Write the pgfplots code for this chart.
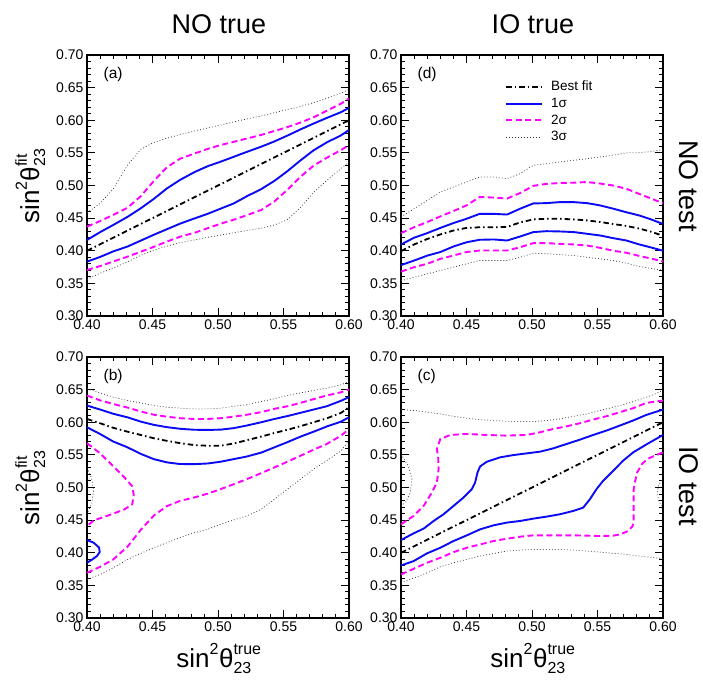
\documentclass[border=0pt]{standalone}
\usepackage{fontspec}
\setmainfont{Liberation Sans}
\usepackage{amsmath}
\usepackage{pgfplots}
\pgfplotsset{compat=1.18}
\DeclareMathSizes{26}{26}{16}{12}
\definecolor{sblue}{RGB}{10,10,245}
\definecolor{smag}{RGB}{255,0,255}

\pgfplotsset{
  panel/.style={
    scale only axis, width=262pt, height=261pt,
    xmin=0.4, xmax=0.6, ymin=0.3, ymax=0.7,
    xtick={0.40,0.45,0.50,0.55,0.60},
    ytick={0.30,0.35,0.40,0.45,0.50,0.55,0.60,0.65,0.70},
    minor x tick num=4, minor y tick num=4,
    major tick length=8pt, minor tick length=4pt,
    axis line style={line width=1.1pt},
    tick style={black, line width=1pt},
    tick label style={font=\fontsize{14}{16}\selectfont},
    /pgf/number format/assume math mode=true,
    xticklabel style={/pgf/number format/fixed, /pgf/number format/fixed zerofill, /pgf/number format/precision=2},
    yticklabel style={/pgf/number format/fixed, /pgf/number format/fixed zerofill, /pgf/number format/precision=2},
  },
  bf/.style={black, line width=1.8pt, dash pattern=on 5.5pt off 3pt on 1.5pt off 3pt},
  s1/.style={sblue, line width=1.9pt},
  s2/.style={smag, line width=1.9pt, dash pattern=on 6pt off 3.5pt},
  s3/.style={black!80, line width=0.75pt, dash pattern=on 0.8pt off 2.2pt},
}
\newcommand{\plab}[1]{\node[anchor=west, font=\fontsize{15.5}{17}\selectfont] at (axis cs:0.410,0.670) {#1};}

\begin{document}
\begin{tikzpicture}
\useasboundingbox (0pt,0pt) rectangle (703pt,681pt);

% (a) NO true, NO test
\begin{axis}[panel, at={(87pt,365pt)}, anchor=south west]
\addplot[s3] coordinates {(0.400,0.458)(0.410,0.4725)(0.420,0.4945)(0.431,0.5315)(0.441,0.5555)(0.451,0.566)(0.461,0.5725)(0.471,0.578)(0.482,0.5835)(0.492,0.588)(0.502,0.5925)(0.512,0.5975)(0.522,0.602)(0.533,0.6065)(0.543,0.6115)(0.553,0.6165)(0.563,0.621)(0.573,0.627)(0.583,0.6335)(0.594,0.6415)(0.600,0.6474)};
\addplot[s3] coordinates {(0.400,0.356)(0.410,0.3655)(0.420,0.3735)(0.431,0.383)(0.441,0.393)(0.451,0.401)(0.461,0.407)(0.471,0.4125)(0.482,0.4165)(0.492,0.4205)(0.502,0.424)(0.512,0.4275)(0.522,0.431)(0.533,0.4345)(0.543,0.4395)(0.553,0.4475)(0.563,0.4665)(0.573,0.4895)(0.583,0.5075)(0.594,0.526)(0.600,0.5365)};
\addplot[s2] coordinates {(0.400,0.437)(0.410,0.4455)(0.420,0.455)(0.431,0.466)(0.441,0.4835)(0.451,0.507)(0.461,0.528)(0.471,0.541)(0.482,0.549)(0.492,0.556)(0.502,0.562)(0.512,0.567)(0.522,0.572)(0.533,0.5775)(0.543,0.5835)(0.553,0.5895)(0.563,0.5965)(0.573,0.6045)(0.583,0.6145)(0.594,0.6255)(0.600,0.6335)};
\addplot[s2] coordinates {(0.400,0.3705)(0.410,0.3765)(0.420,0.3835)(0.431,0.391)(0.441,0.3985)(0.451,0.406)(0.461,0.414)(0.471,0.4215)(0.482,0.4275)(0.492,0.4345)(0.502,0.4415)(0.512,0.4475)(0.522,0.4545)(0.533,0.4625)(0.543,0.4755)(0.553,0.4935)(0.563,0.5135)(0.573,0.5305)(0.583,0.5425)(0.594,0.5545)(0.600,0.562)};
\addplot[s1] coordinates {(0.400,0.4165)(0.410,0.4285)(0.420,0.4395)(0.431,0.452)(0.441,0.465)(0.451,0.4795)(0.461,0.4955)(0.471,0.5085)(0.482,0.5205)(0.492,0.5295)(0.502,0.5365)(0.512,0.544)(0.522,0.5515)(0.533,0.5595)(0.543,0.5675)(0.553,0.5765)(0.563,0.586)(0.573,0.595)(0.583,0.6035)(0.594,0.6125)(0.600,0.619)};
\addplot[s1] coordinates {(0.400,0.3833)(0.410,0.3905)(0.420,0.399)(0.431,0.4065)(0.441,0.4155)(0.451,0.4245)(0.461,0.433)(0.471,0.4415)(0.482,0.4495)(0.492,0.4565)(0.502,0.4645)(0.512,0.4725)(0.522,0.4835)(0.533,0.4945)(0.543,0.507)(0.553,0.522)(0.563,0.5385)(0.573,0.554)(0.583,0.566)(0.594,0.577)(0.600,0.585)};
\addplot[bf] coordinates {(0.40,0.40)(0.50,0.50)(0.60,0.60)};
\plab{(a)}
\end{axis}

% (d) IO true, NO test
\begin{axis}[panel, at={(401pt,365pt)}, anchor=south west,
  legend style={at={(0.389,0.912)}, anchor=north west, draw=none, fill=none,
    inner sep=2pt, column sep=7pt, row sep=3.2pt,
    nodes={text height=9.5pt, text depth=2pt, inner sep=1pt},
    font=\fontsize{13.5}{15}\selectfont},
  legend cell align=left,
  legend image code/.code={\draw[#1] (0pt,0pt) -- (36pt,0pt);}]
\addplot[bf] coordinates {(0.400,0.3994)(0.410,0.4096)(0.420,0.418)(0.430,0.425)(0.440,0.431)(0.450,0.435)(0.460,0.436)(0.471,0.436)(0.481,0.4365)(0.491,0.4435)(0.501,0.448)(0.511,0.449)(0.521,0.449)(0.532,0.448)(0.542,0.4465)(0.552,0.444)(0.562,0.441)(0.572,0.438)(0.582,0.434)(0.591,0.429)(0.600,0.423)};
\addlegendentry{Best fit}
\addplot[s1] coordinates {(0.400,0.4096)(0.410,0.42)(0.420,0.427)(0.430,0.435)(0.440,0.4424)(0.450,0.449)(0.460,0.4565)(0.471,0.4565)(0.481,0.4555)(0.491,0.4645)(0.501,0.4725)(0.511,0.473)(0.521,0.4745)(0.532,0.4745)(0.542,0.473)(0.552,0.4695)(0.562,0.4645)(0.572,0.459)(0.582,0.454)(0.591,0.448)(0.600,0.441)};
\addlegendentry{1σ}
\addplot[s2] coordinates {(0.400,0.427)(0.410,0.436)(0.420,0.444)(0.430,0.4526)(0.440,0.4608)(0.450,0.4695)(0.460,0.4823)(0.471,0.4815)(0.481,0.480)(0.491,0.4885)(0.501,0.4995)(0.511,0.5025)(0.521,0.5038)(0.532,0.5043)(0.542,0.5053)(0.552,0.503)(0.562,0.500)(0.572,0.495)(0.582,0.487)(0.591,0.480)(0.600,0.4728)};
\addlegendentry{2σ}
\addplot[s3] coordinates {(0.400,0.4516)(0.410,0.4644)(0.420,0.4772)(0.430,0.49)(0.440,0.4977)(0.450,0.5053)(0.460,0.513)(0.471,0.513)(0.481,0.5105)(0.491,0.5182)(0.501,0.531)(0.511,0.5335)(0.521,0.536)(0.532,0.5387)(0.542,0.541)(0.552,0.5438)(0.562,0.5464)(0.572,0.55)(0.582,0.5504)(0.591,0.552)(0.600,0.555)};
\addlegendentry{3σ}
\addplot[s1, forget plot] coordinates {(0.400,0.378)(0.410,0.385)(0.420,0.3925)(0.430,0.398)(0.440,0.4065)(0.450,0.413)(0.460,0.4168)(0.471,0.4173)(0.481,0.4157)(0.491,0.4219)(0.501,0.4286)(0.511,0.430)(0.521,0.4296)(0.532,0.4286)(0.542,0.426)(0.552,0.4234)(0.562,0.4193)(0.572,0.4157)(0.582,0.4096)(0.591,0.405)(0.600,0.40)};
\addplot[s2, forget plot] coordinates {(0.400,0.368)(0.410,0.3748)(0.420,0.38)(0.430,0.3876)(0.440,0.3927)(0.450,0.398)(0.460,0.4004)(0.471,0.4004)(0.481,0.4004)(0.491,0.4055)(0.501,0.4117)(0.511,0.4117)(0.521,0.4106)(0.532,0.4096)(0.542,0.408)(0.552,0.4045)(0.562,0.400)(0.572,0.397)(0.582,0.392)(0.591,0.388)(0.600,0.3836)};
\addplot[s3, forget plot] coordinates {(0.400,0.3543)(0.410,0.3594)(0.420,0.3645)(0.430,0.3697)(0.440,0.3748)(0.450,0.38)(0.460,0.385)(0.471,0.385)(0.481,0.385)(0.491,0.39)(0.501,0.3963)(0.511,0.3953)(0.521,0.3942)(0.532,0.3927)(0.542,0.39)(0.552,0.3876)(0.562,0.385)(0.572,0.381)(0.582,0.3758)(0.591,0.373)(0.600,0.37)};
\plab{(d)}
\end{axis}

% (b) NO true, IO test
\begin{axis}[panel, at={(87pt,63pt)}, anchor=south west]
\addplot[s3] coordinates {(0.400,0.6513)(0.410,0.645)(0.420,0.6385)(0.431,0.6333)(0.441,0.6297)(0.451,0.6256)(0.461,0.623)(0.471,0.6215)(0.482,0.6205)(0.492,0.6205)(0.502,0.6215)(0.512,0.6245)(0.522,0.627)(0.533,0.6318)(0.543,0.636)(0.553,0.641)(0.563,0.645)(0.573,0.6487)(0.583,0.6523)(0.594,0.6574)(0.600,0.6626)};
\addplot[s3] coordinates {(0.400,0.359)(0.410,0.3667)(0.420,0.3769)(0.431,0.3897)(0.441,0.399)(0.451,0.4077)(0.461,0.4154)(0.471,0.4231)(0.482,0.4308)(0.492,0.4359)(0.502,0.4436)(0.512,0.4503)(0.522,0.4564)(0.533,0.4667)(0.543,0.482)(0.553,0.4974)(0.563,0.5128)(0.573,0.5282)(0.583,0.541)(0.594,0.5564)(0.600,0.5718)};
\addplot[s3] coordinates {(0.400,0.530)(0.4035,0.515)(0.405,0.495)(0.4035,0.475)(0.400,0.460)};
\addplot[s2] coordinates {(0.400,0.641)(0.410,0.6335)(0.420,0.628)(0.431,0.6225)(0.441,0.6165)(0.451,0.6115)(0.461,0.6085)(0.471,0.6062)(0.482,0.605)(0.492,0.605)(0.502,0.6062)(0.512,0.6085)(0.522,0.6115)(0.533,0.6155)(0.543,0.6205)(0.553,0.6245)(0.563,0.6297)(0.573,0.6355)(0.583,0.641)(0.594,0.646)(0.600,0.6503)};
\addplot[s2] coordinates {(0.400,0.3692)(0.410,0.3785)(0.420,0.3897)(0.431,0.4095)(0.441,0.435)(0.451,0.457)(0.461,0.4715)(0.471,0.4795)(0.482,0.4848)(0.492,0.4905)(0.502,0.4975)(0.512,0.505)(0.522,0.5128)(0.533,0.522)(0.543,0.5308)(0.553,0.5395)(0.563,0.5487)(0.573,0.558)(0.583,0.5667)(0.594,0.5795)(0.600,0.5897)};
\addplot[s2] coordinates {(0.400,0.568)(0.4093,0.5535)(0.4204,0.532)(0.4281,0.5165)(0.4345,0.502)(0.4357,0.489)(0.4345,0.474)(0.4281,0.466)(0.4153,0.4565)(0.4051,0.4495)(0.400,0.441)};
\addplot[s1] coordinates {(0.400,0.6256)(0.410,0.6195)(0.420,0.613)(0.431,0.6075)(0.441,0.601)(0.451,0.596)(0.461,0.5925)(0.471,0.590)(0.482,0.5885)(0.492,0.5882)(0.502,0.5887)(0.512,0.591)(0.522,0.595)(0.533,0.600)(0.543,0.605)(0.553,0.6095)(0.563,0.6145)(0.573,0.6195)(0.583,0.6245)(0.594,0.633)(0.600,0.6385)};
\addplot[s1] coordinates {(0.400,0.5923)(0.410,0.582)(0.420,0.5705)(0.431,0.5615)(0.441,0.5515)(0.451,0.5435)(0.461,0.5385)(0.471,0.536)(0.482,0.5358)(0.492,0.5368)(0.502,0.5395)(0.512,0.5435)(0.522,0.5475)(0.533,0.5535)(0.543,0.5615)(0.553,0.5695)(0.563,0.578)(0.573,0.5855)(0.583,0.5935)(0.594,0.601)(0.600,0.6077)};
\addplot[s1] coordinates {(0.400,0.4195)(0.4051,0.4154)(0.4092,0.408)(0.4097,0.401)(0.4076,0.395)(0.4035,0.389)(0.400,0.3846)};
\addplot[bf] coordinates {(0.400,0.605)(0.410,0.5985)(0.420,0.5915)(0.431,0.5855)(0.441,0.5805)(0.451,0.5755)(0.461,0.5715)(0.471,0.568)(0.482,0.565)(0.492,0.564)(0.502,0.564)(0.512,0.5675)(0.522,0.5725)(0.533,0.578)(0.543,0.5835)(0.553,0.5885)(0.563,0.594)(0.573,0.600)(0.583,0.606)(0.594,0.6145)(0.600,0.623)};
\plab{(b)}
\end{axis}

% (c) IO true, IO test
\begin{axis}[panel, at={(401pt,63pt)}, anchor=south west]
\addplot[s3] coordinates {(0.400,0.6195)(0.410,0.618)(0.420,0.6154)(0.430,0.6128)(0.440,0.6092)(0.450,0.6062)(0.460,0.6041)(0.471,0.6026)(0.481,0.6015)(0.491,0.601)(0.501,0.601)(0.511,0.6026)(0.521,0.6051)(0.532,0.6092)(0.542,0.6128)(0.552,0.618)(0.562,0.623)(0.572,0.6282)(0.582,0.6349)(0.591,0.641)(0.600,0.6486)};
\addplot[s3] coordinates {(0.400,0.3538)(0.410,0.3615)(0.420,0.3692)(0.430,0.3785)(0.440,0.3846)(0.450,0.3897)(0.460,0.3949)(0.471,0.399)(0.481,0.4026)(0.491,0.4041)(0.501,0.4051)(0.511,0.4051)(0.521,0.4051)(0.532,0.4041)(0.542,0.4026)(0.552,0.401)(0.562,0.399)(0.572,0.3974)(0.582,0.3949)(0.591,0.393)(0.600,0.3908)};
\addplot[s3] coordinates {(0.400,0.551)(0.4056,0.533)(0.4084,0.5123)(0.407,0.492)(0.4033,0.4765)(0.400,0.472)};
\addplot[s3] coordinates {(0.600,0.515)(0.5965,0.503)(0.5955,0.490)(0.597,0.478)(0.600,0.470)};
\addplot[s2] coordinates {(0.400,0.4436)(0.4096,0.4564)(0.4173,0.4718)(0.4236,0.4923)(0.4274,0.5077)(0.4287,0.5282)(0.4284,0.545)(0.4274,0.559)(0.430,0.5744)(0.4376,0.5805)(0.4503,0.5821)(0.4655,0.5805)(0.4807,0.5795)(0.4959,0.5805)(0.5061,0.5846)(0.5162,0.5897)(0.5264,0.5938)(0.5365,0.5985)(0.5467,0.6041)(0.5568,0.6092)(0.567,0.6154)(0.5771,0.6215)(0.5873,0.6297)(0.600,0.6333)};
\addplot[s2] coordinates {(0.400,0.3667)(0.4096,0.3754)(0.4198,0.3846)(0.430,0.3923)(0.4401,0.401)(0.4503,0.4077)(0.4604,0.4128)(0.4706,0.418)(0.4807,0.4215)(0.4909,0.4246)(0.501,0.4267)(0.5112,0.4267)(0.5213,0.4267)(0.5315,0.4267)(0.5416,0.4262)(0.552,0.4256)(0.562,0.4262)(0.5674,0.4282)(0.5735,0.4335)(0.5768,0.441)(0.5776,0.4486)(0.5776,0.4666)(0.5776,0.4974)(0.579,0.512)(0.5802,0.523)(0.584,0.536)(0.5878,0.5435)(0.594,0.549)(0.600,0.5538)};
\addplot[s1] coordinates {(0.400,0.4195)(0.4096,0.4297)(0.4173,0.437)(0.4249,0.4487)(0.4325,0.459)(0.4401,0.4718)(0.4477,0.4846)(0.454,0.4974)(0.4566,0.5077)(0.4584,0.523)(0.4604,0.5323)(0.4655,0.5395)(0.4756,0.5462)(0.4858,0.5497)(0.4959,0.5523)(0.5061,0.5549)(0.5162,0.560)(0.5264,0.5667)(0.5365,0.5733)(0.5467,0.5805)(0.5568,0.5872)(0.567,0.5949)(0.5771,0.6026)(0.5873,0.6113)(0.600,0.6194)};
\addplot[s1] coordinates {(0.400,0.3805)(0.4096,0.3872)(0.4198,0.399)(0.430,0.4077)(0.4401,0.418)(0.4503,0.4267)(0.4604,0.4359)(0.4706,0.442)(0.4807,0.4462)(0.4909,0.4487)(0.501,0.4523)(0.5112,0.4554)(0.5213,0.459)(0.5315,0.4641)(0.5391,0.4692)(0.5442,0.482)(0.5492,0.4974)(0.5543,0.5103)(0.562,0.5256)(0.5695,0.541)(0.5772,0.5538)(0.5878,0.5666)(0.600,0.5805)};
\addplot[bf] coordinates {(0.40,0.40)(0.50,0.50)(0.60,0.60)};
\plab{(c)}
\end{axis}

% titles and labels
\node[font=\fontsize{27}{30}\selectfont] at (219pt,657pt) {NO true};
\node[font=\fontsize{27}{30}\selectfont] at (533pt,657pt) {IO true};
\node[font=\fontsize{27}{30}\selectfont, rotate=-90] at (689pt,495pt) {NO test};
\node[font=\fontsize{27}{30}\selectfont, rotate=-90] at (689pt,195pt) {IO test};
\node[font=\fontsize{26}{30}\selectfont, anchor=base] at (219pt,14pt) {$\text{sin}^{\text{2}}\text{θ}^{\text{true}}_{\text{23}}$};
\node[font=\fontsize{26}{30}\selectfont, anchor=base] at (533pt,14pt) {$\text{sin}^{\text{2}}\text{θ}^{\text{true}}_{\text{23}}$};
\node[font=\fontsize{26}{30}\selectfont, anchor=base, rotate=90] at (39pt,495pt) {$\text{sin}^{\text{2}}\text{θ}^{\text{fit}}_{\text{23}}$};
\node[font=\fontsize{26}{30}\selectfont, anchor=base, rotate=90] at (39pt,193pt) {$\text{sin}^{\text{2}}\text{θ}^{\text{fit}}_{\text{23}}$};
\end{tikzpicture}
\end{document}
